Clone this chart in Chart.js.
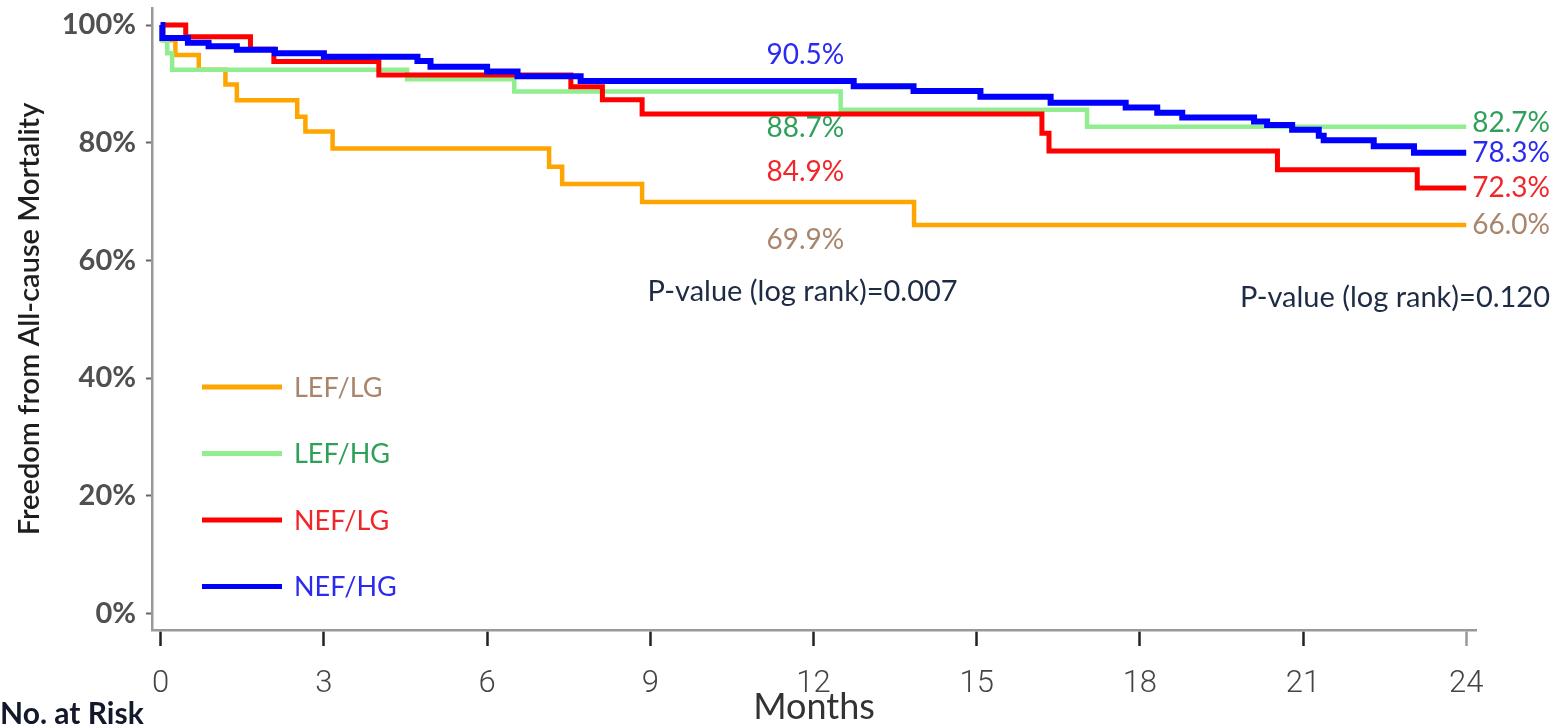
<!DOCTYPE html>
<html lang="en">
<head>
<meta charset="UTF-8">
<title>Freedom from All-cause Mortality</title>
<script src="https://cdn.jsdelivr.net/npm/chart.js"></script>
<style>
  body { margin: 0; background: #fff; }
  .chart-box { width: 1562px; height: 727px; position: relative; }
</style>
</head>
<body>
<div class="chart-box"><canvas id="kmChart"></canvas></div>
<script>
// Kaplan-Meier estimates: event times (months) and survival (%) after each step
const monthTicks = [0, 3, 6, 9, 12, 15, 18, 21, 24];
const pctTicks = [0, 20, 40, 60, 80, 100];
const groupNames = ['LEF/LG', 'LEF/HG', 'NEF/LG', 'NEF/HG'];

const lefLgMonths = [0, 0.05, 0.27, 0.70, 1.19, 1.40, 2.51, 2.66, 3.16, 7.14, 7.38, 8.85, 13.85, 24];
const lefLgSurv   = [100, 97.4, 94.9, 92.4, 89.9, 87.2, 84.4, 81.9, 79.0, 75.9, 73.0, 69.9, 66.0, 66.0];

const lefHgMonths = [0, 0.02, 0.12, 0.21, 4.53, 6.50, 12.50, 17.03, 24];
const lefHgSurv   = [100, 97.4, 95.2, 92.4, 90.8, 88.7, 85.6, 82.7, 82.7];

const nefLgMonths = [0, 0.46, 1.65, 2.08, 4.01, 7.54, 8.12, 8.85, 16.20, 16.33, 20.53, 23.10, 24];
const nefLgSurv   = [100, 98.0, 95.9, 93.8, 91.5, 89.5, 87.3, 84.9, 81.6, 78.6, 75.4, 72.3, 72.3];

const nefHgMonths = [0, 0.03, 0.50, 0.88, 1.40, 2.10, 3.00, 4.72, 4.96, 6.00, 6.56, 7.72, 12.74, 13.84,
                     15.07, 16.36, 17.74, 18.32, 18.78, 20.10, 20.34, 20.80, 21.29, 21.38, 22.30, 23.04, 24];
const nefHgSurv   = [100, 97.8, 97.0, 96.4, 95.8, 95.2, 94.6, 93.9, 92.9, 92.1, 91.3, 90.5, 89.6, 88.8,
                     87.8, 86.8, 86.0, 85.1, 84.3, 83.6, 83.0, 82.2, 81.2, 80.4, 79.4, 78.3, 78.3];

const pValues = ['0.007', '0.120'];

const lineColors = ['#FFA500', '#90EE90', '#FF0000', '#0000FF'];
const textColors = ['#A9856C', '#2FA05A', '#F0262A', '#2B2BF0'];
const FONT = 'Lato, "Open Sans", sans-serif';

function toPoints(months, surv) {
    return months.map((m, i) => ({ x: m, y: surv[i] }));
}

// survival value in effect at time t (step function)
function survivalAt(points, t) {
    let v = points[0].y;
    points.forEach(p => { if (p.x <= t) v = p.y; });
    return v;
}

const kmNotes = {
    id: 'kmNotes',
    afterDatasetsDraw(chart) {
        const { ctx, scales: { x, y } } = chart;
        const sets = chart.data.datasets;
        ctx.save();
        ctx.font = '28px ' + FONT;
        ctx.textBaseline = 'middle';

        // estimates at 12 months
        const midShift = [38, 36, 58, -26];
        ctx.textAlign = 'center';
        sets.forEach((ds, i) => {
            const v = survivalAt(ds.data, 12);
            ctx.fillStyle = textColors[i];
            ctx.fillText(v.toFixed(1) + '%', x.getPixelForValue(11.85), y.getPixelForValue(v) + midShift[i]);
        });

        // estimates at 24 months, right of the curves
        const endShift = [0, -4, 0, 0];
        ctx.textAlign = 'left';
        sets.forEach((ds, i) => {
            const v = survivalAt(ds.data, 24);
            ctx.fillStyle = textColors[i];
            ctx.fillText(v.toFixed(1) + '%', x.getPixelForValue(24) + 6, y.getPixelForValue(v) + endShift[i]);
        });

        // log-rank p-values
        ctx.font = '29px ' + FONT;
        ctx.fillStyle = '#1E2B44';
        ctx.textAlign = 'center';
        ctx.fillText('P-value (log rank)=' + pValues[0], x.getPixelForValue(11.8), y.getPixelForValue(54.6));
        ctx.fillText('P-value (log rank)=' + pValues[1], x.getPixelForValue(22.69), y.getPixelForValue(53.6));

        // legend
        ctx.font = '27px ' + FONT;
        ctx.textAlign = 'left';
        sets.forEach((ds, i) => {
            const ly = 387 + i * 66.5;
            ctx.strokeStyle = ds.borderColor;
            ctx.lineWidth = 5;
            ctx.beginPath();
            ctx.moveTo(202, ly);
            ctx.lineTo(282, ly);
            ctx.stroke();
            ctx.fillStyle = textColors[i];
            ctx.fillText(ds.label, 294, ly + 1);
        });

        // risk table heading
        ctx.font = 'bold 30px ' + FONT;
        ctx.fillStyle = '#14182B';
        ctx.textBaseline = 'alphabetic';
        ctx.fillText('No. at Risk', 0, 724);
        ctx.restore();
    }
};

const series = [
    toPoints(lefLgMonths, lefLgSurv),
    toPoints(lefHgMonths, lefHgSurv),
    toPoints(nefLgMonths, nefLgSurv),
    toPoints(nefHgMonths, nefHgSurv)
];
const widths = [4.5, 4.5, 5, 6];

new Chart(document.getElementById('kmChart'), {
    type: 'line',
    data: {
        datasets: series.map((pts, i) => ({
            label: groupNames[i],
            data: pts,
            borderColor: lineColors[i],
            borderWidth: widths[i],
            stepped: true,
            pointRadius: 0,
            fill: false,
            order: 3 - i
        }))
    },
    options: {
        responsive: true,
        maintainAspectRatio: false,
        animation: false,
        layout: { padding: { top: 8, right: 86, left: 0, bottom: 0 } },
        plugins: { legend: { display: false }, tooltip: { enabled: false } },
        scales: {
            x: {
                type: 'linear',
                min: -0.16,
                max: 24.18,
                afterFit(s) { s.height = 97; s.paddingLeft = 0; s.paddingRight = 0; },
                afterBuildTicks(s) { s.ticks = monthTicks.map(v => ({ value: v })); },
                grid: {
                    drawOnChartArea: false,
                    tickLength: 16,
                    tickWidth: 2.5,
                    tickColor: c => (c.tick && c.tick.value === 24 ? '#999' : '#222')
                },
                border: { display: true, color: '#999', width: 2.5 },
                ticks: {
                    padding: 20,
                    color: '#444',
                    font: { family: 'Roboto', size: 31, weight: 300 }
                },
                title: {
                    display: true,
                    text: 'Months',
                    color: '#333',
                    padding: { top: 0, bottom: -2 },
                    font: { family: FONT, size: 36 }
                }
            },
            y: {
                min: -2.84,
                max: 102.9,
                afterFit(s) { s.width = 152; s.paddingTop = 0; s.paddingBottom = 0; },
                afterBuildTicks(s) { s.ticks = pctTicks.map(v => ({ value: v })); },
                grid: {
                    drawOnChartArea: false,
                    tickLength: 6,
                    tickWidth: 2,
                    tickColor: '#666'
                },
                border: { display: true, color: '#999', width: 2.5 },
                ticks: {
                    padding: 10,
                    color: '#505050',
                    font: { family: FONT, size: 29, weight: 'bold' },
                    callback: v => v + '%'
                },
                title: {
                    display: true,
                    text: 'Freedom from All-cause Mortality',
                    color: '#1E1E1E',
                    padding: { top: 12, bottom: 0 },
                    font: { family: FONT, size: 29, weight: 600 }
                }
            }
        }
    },
    plugins: [kmNotes]
});
</script>
</body>
</html>
